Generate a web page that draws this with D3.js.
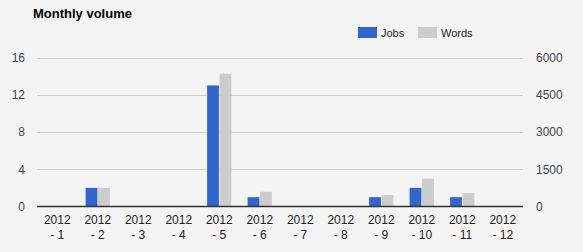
<!DOCTYPE html>
<html>
<head>
<meta charset="utf-8">
<script src="https://cdn.jsdelivr.net/npm/d3@7"></script>
<style>
  body { margin: 0; background: #f4f4f4; }
  svg { display: block; font-family: Arial, "Liberation Sans", sans-serif; }
</style>
</head>
<body>
<svg width="583" height="252"></svg>
<script>
const months = ["2012 - 1", "2012 - 2", "2012 - 3", "2012 - 4", "2012 - 5", "2012 - 6",
                "2012 - 7", "2012 - 8", "2012 - 9", "2012 - 10", "2012 - 11", "2012 - 12"];
const jobs = [0, 2, 0, 0, 13, 1, 0, 0, 1, 2, 1, 0];
const words = [0, 750, 0, 0, 5350, 590, 0, 0, 460, 1120, 540, 0];
const leftTicks = [0, 4, 8, 12, 16];
const rightTicks = [0, 1500, 3000, 4500, 6000];
const series = ["Jobs", "Words"];
const colours = ["#3366cc", "#cccccc"];

const svg = d3.select("svg");
const margin = { left: 37, right: 60, top: 57, bottom: 45 };
const width = +svg.attr("width");
const height = +svg.attr("height");

const x = d3.scaleBand().domain(months)
  .range([margin.left, width - margin.right]).paddingInner(0.4).paddingOuter(0.2);
const sub = d3.scaleBand().domain(series).range([0, x.bandwidth()]).paddingInner(0.05);
const yL = d3.scaleLinear().domain([0, 16]).range([height - margin.bottom - 0.5, margin.top + 0.5]);
const yR = d3.scaleLinear().domain([0, 6000]).range(yL.range());

// title
svg.append("text").attr("x", 33).attr("y", 18)
  .attr("font-weight", "bold").attr("font-size", 13).attr("fill", "#000")
  .text("Monthly volume");

// legend
const legend = svg.append("g").attr("font-size", 11).attr("fill", "#222");
const legendX = [358, 418];
series.forEach((s, i) => {
  legend.append("rect").attr("x", legendX[i]).attr("y", 27).attr("width", 19).attr("height", 11)
    .attr("fill", colours[i]);
  legend.append("text").attr("x", legendX[i] + 23).attr("y", 36.5).text(s);
});

// gridlines
svg.append("g").selectAll("line").data(leftTicks.filter(d => d > 0)).join("line")
  .attr("x1", margin.left).attr("x2", width - margin.right)
  .attr("y1", d => Math.round(yL(d)) + 0.5).attr("y2", d => Math.round(yL(d)) + 0.5)
  .attr("stroke", "#cccccc");

// left axis
const axisL = svg.append("g").attr("transform", `translate(${margin.left - 12},0)`)
  .call(d3.axisLeft(yL).tickValues(leftTicks).tickSize(0).tickPadding(0).tickFormat(d3.format("d")));
axisL.select(".domain").remove();
axisL.selectAll("text").attr("font-size", 12).attr("fill", "#444").attr("font-family", null);

// right axis
const axisR = svg.append("g").attr("transform", `translate(${width - margin.right + 13},0)`)
  .call(d3.axisRight(yR).tickValues(rightTicks).tickSize(0).tickPadding(0).tickFormat(d3.format("d")));
axisR.select(".domain").remove();
axisR.selectAll("text").attr("font-size", 12).attr("fill", "#444").attr("font-family", null);

// bars
const data = months.map((m, i) => ({ m, vals: [
  { s: "Jobs", y: yL(jobs[i]) },
  { s: "Words", y: yR(words[i]) }
]}));
const groups = svg.append("g").selectAll("g").data(data).join("g")
  .attr("transform", d => `translate(${x(d.m)},0)`);
groups.selectAll("rect").data(d => d.vals).join("rect")
  .attr("x", d => sub(d.s)).attr("width", sub.bandwidth())
  .attr("y", d => d.y).attr("height", d => yL(0) - d.y)
  .attr("fill", (d, i) => colours[i]);

// baseline
svg.append("line").attr("x1", margin.left).attr("x2", width - margin.right)
  .attr("y1", yL(0)).attr("y2", yL(0)).attr("stroke", "#333").attr("stroke-width", 1.3);

// x labels (two lines)
const xl = svg.append("g").attr("font-size", 12).attr("fill", "#222").attr("text-anchor", "middle");
months.forEach(m => {
  const parts = m.split(" - ");
  const t = xl.append("text").attr("x", x(m) + x.bandwidth() / 2).attr("y", 224);
  t.append("tspan").attr("x", x(m) + x.bandwidth() / 2).text(parts[0]);
  t.append("tspan").attr("x", x(m) + x.bandwidth() / 2).attr("dy", 15).text("- " + parts[1]);
});
</script>
</body>
</html>
